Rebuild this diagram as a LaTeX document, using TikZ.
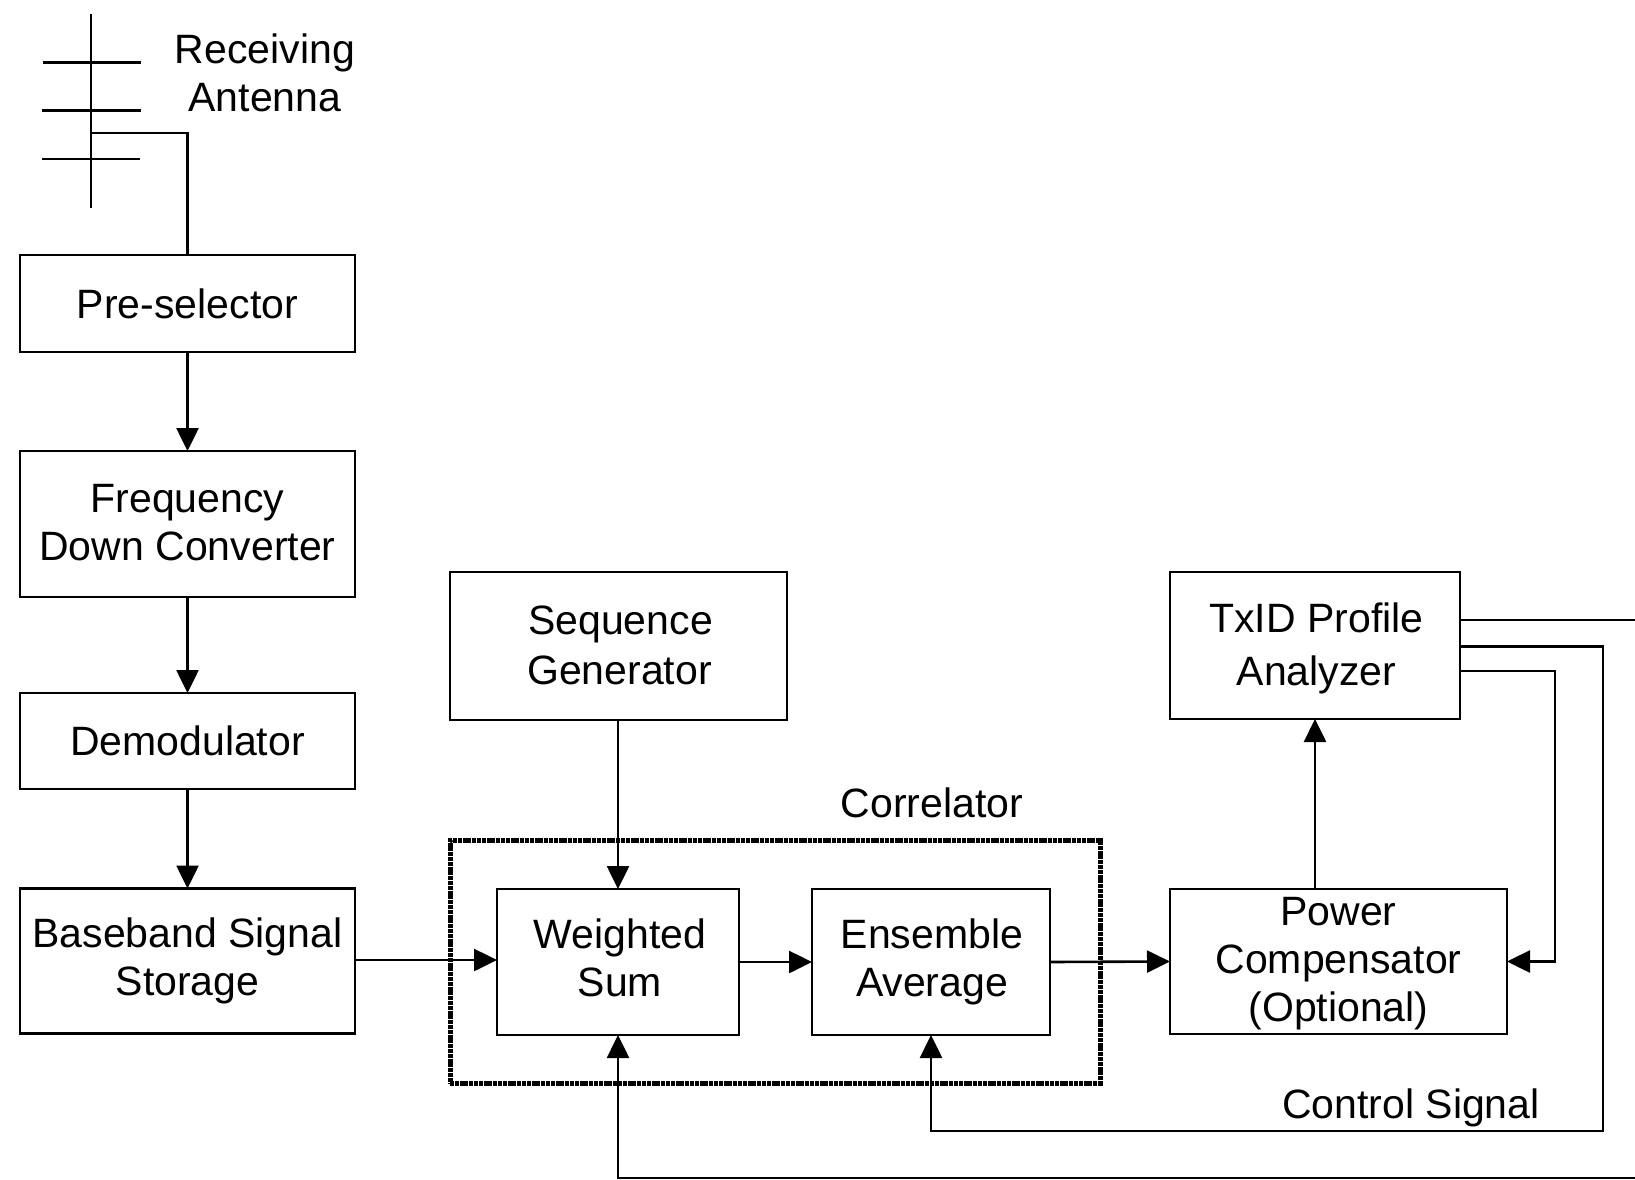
\documentclass[tikz,border=0pt]{standalone}
\usepackage{fontspec}
\setmainfont{Liberation Sans}
\usetikzlibrary{arrows.meta,calc}
\newcommand{\topgap}[1]{\rule{0pt}{#1pt}}
\newcommand{\botgap}[1]{\rule[-#1pt]{0pt}{1pt}}
\tikzset{
  blk/.style={draw=black,line width=2.6pt,fill=none,inner sep=0pt,outer sep=0pt,align=center,font=\fontsize{41}{48}\selectfont},
  lbl/.style={inner sep=0pt,outer sep=0pt,align=center,font=\fontsize{41}{48}\selectfont},
  wire/.style={draw=black,line width=2.6pt},
  arr/.style={wire,-{Triangle[length=23pt,width=22pt]}},
  grp/.style={draw=black,line width=5pt,dash pattern=on 4pt off 0.8pt}
}
\begin{document}
\begin{tikzpicture}[x=1pt,y=-1pt]
\useasboundingbox (0,0) rectangle (1635,1180);
% boxes
\node[blk,minimum width=335pt,minimum height=97pt] (pre) at (187.5,303.5) {Pre-selector};
\node[blk,minimum width=335pt,minimum height=146pt] (freq) at (187.5,524) {Frequency\\Down Converter\botgap{4}};
\node[blk,minimum width=335pt,minimum height=96pt] (demod) at (187.5,741) {Demodulator};
\node[blk,minimum width=335pt,minimum height=145pt] (base) at (187.5,961) {Baseband Signal\\Storage};
\node[blk,minimum width=337pt,minimum height=148pt] (seq) at (618.5,646) {\hspace*{4pt}Sequence\\[2pt]\hspace*{2pt}Generator\botgap{2}};
\node[grp,minimum width=650pt,minimum height=243pt,inner sep=0pt,outer sep=0pt] (corr) at (775,961.5) {};
\node[blk,minimum width=242pt,minimum height=146pt] (ws) at (618,962) {\hspace*{4pt}Weighted\\\hspace*{4pt}Sum\botgap{8}};
\node[blk,minimum width=238pt,minimum height=146pt] (ens) at (931,962) {\hspace*{2pt}Ensemble\\\hspace*{2pt}Average};
\node[blk,minimum width=290pt,minimum height=147pt] (tx) at (1315,645.5) {\topgap{36}\hspace*{3pt}TxID Profile\\[5pt]\hspace*{3pt}Analyzer};
\node[blk,minimum width=337pt,minimum height=145pt] (pow) at (1338.5,961.5) {\topgap{32}Power\\Compensator\\(Optional)};
% labels
\node[lbl] (rx) at (265,73) {Receiving\\Antenna};
\node[lbl] (corrlab) at (932,803) {Correlator};
\node[lbl] (ctl) at (1411,1108) {Control Signal};
% antenna
\coordinate (mastT) at (91,14);
\coordinate (mastB) at (91,208);
\coordinate (a1L) at (43,62.5);  \coordinate (a1R) at (141,62.5);
\coordinate (a2L) at (42,110.5); \coordinate (a2R) at (141,110.5);
\coordinate (a3L) at (42,159);   \coordinate (a3R) at (140,159);
\coordinate (feed) at (91,133);
\draw[wire] (mastT) -- (mastB);
\draw[wire] (a1L) -- (a1R);
\draw[wire] (a2L) -- (a2R);
\draw[wire] (a3L) -- (a3R);
\draw[wire] (feed) -| (pre.north);
% connectors
\draw[arr] (pre.south) -- (freq.north);
\draw[arr] (freq.south) -- (demod.north);
\draw[arr] (demod.south) -- (base.north);
\coordinate (in1) at (0,960);
\draw[arr] (base.east |- in1) -- (ws.west |- in1);
\draw[arr] (seq.south -| ws.north) -- (ws.north);
\draw[arr] (ws.east) -- (ens.west);
\draw[arr] (ens.east) -- (pow.west);
\coordinate (powtop) at (pow.north -| tx.south);
\draw[arr] (powtop) -- (tx.south);
\coordinate (t1) at (1635,620);
\draw[wire] (tx.east |- t1) -- (t1);
\coordinate (t2) at (1603,646.5);
\coordinate (t2b) at (1603,1131);
\draw[arr] (tx.east |- t2) -- (t2) -- (t2b) -| (ens.south);
\coordinate (t3) at (1555,671);
\draw[arr] (tx.east |- t3) -- (t3) |- (pow.east);
\coordinate (t4) at (1635,1178);
\draw[arr] (t4) -| (ws.south);
\end{tikzpicture}
\end{document}
